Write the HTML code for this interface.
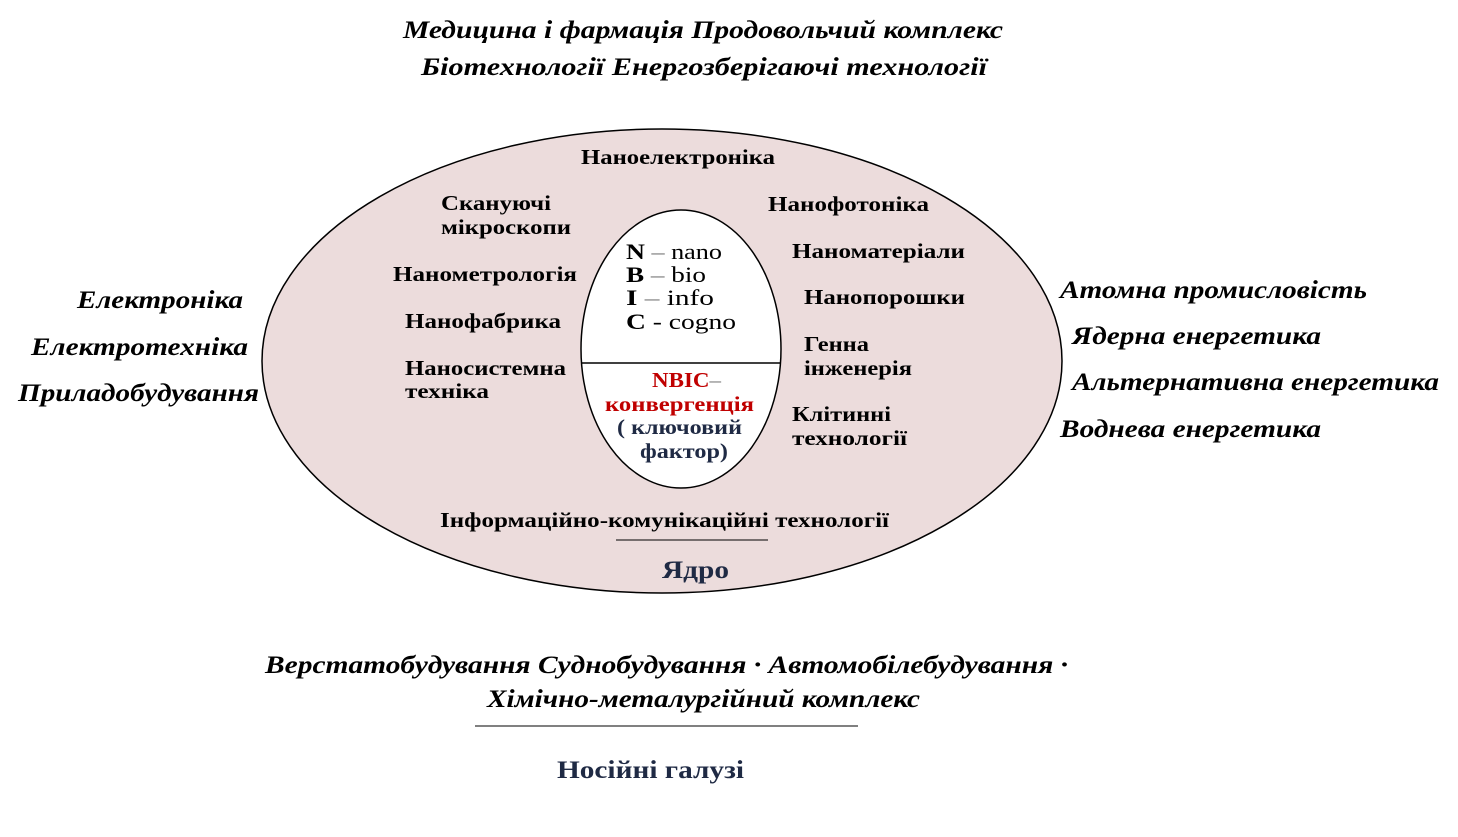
<!DOCTYPE html>
<html><head><meta charset="utf-8"><style>
body{margin:0;background:#fff;}
svg text{font-family:"Liberation Serif",serif;}
.b{font-weight:bold;font-size:21px;fill:#000;}
.i{font-weight:bold;font-style:italic;font-size:25px;fill:#000;}
.n{font-size:22px;}
</style></head><body>
<svg width="1458" height="832" xmlns="http://www.w3.org/2000/svg">
<ellipse cx="662" cy="361" rx="400" ry="232" fill="#ecdcdc" stroke="#000" stroke-width="1.5"/>
<ellipse cx="681" cy="349" rx="100" ry="139" fill="#fff" stroke="#000" stroke-width="1.5"/>
<line x1="581" y1="363" x2="781" y2="363" stroke="#000" stroke-width="1.5"/>
<line x1="616" y1="540" x2="768" y2="540" stroke="#000"/>
<line x1="475" y1="726" x2="858" y2="726" stroke="#000"/>

<g>
<text class="i" x="403" y="38" textLength="600" lengthAdjust="spacingAndGlyphs">Медицина і фармація  Продовольчий комплекс</text>
<text class="i" x="421" y="75" textLength="566" lengthAdjust="spacingAndGlyphs">Біотехнології   Енергозберігаючі технології</text>

<text class="b" x="581" y="164" textLength="194" lengthAdjust="spacingAndGlyphs">Наноелектроніка</text>
<text class="b" x="441" y="210" textLength="110" lengthAdjust="spacingAndGlyphs">Скануючі</text>
<text class="b" x="441" y="234" textLength="130" lengthAdjust="spacingAndGlyphs">мікроскопи</text>
<text class="b" x="393" y="281" textLength="184" lengthAdjust="spacingAndGlyphs">Нанометрологія</text>
<text class="b" x="405" y="328" textLength="156" lengthAdjust="spacingAndGlyphs">Нанофабрика</text>
<text class="b" x="405" y="375" textLength="161" lengthAdjust="spacingAndGlyphs">Наносистемна</text>
<text class="b" x="405" y="398" textLength="84" lengthAdjust="spacingAndGlyphs">техніка</text>
<text class="b" x="768" y="211" textLength="161" lengthAdjust="spacingAndGlyphs">Нанофотоніка</text>
<text class="b" x="792" y="258" textLength="173" lengthAdjust="spacingAndGlyphs">Наноматеріали</text>
<text class="b" x="804" y="304" textLength="161" lengthAdjust="spacingAndGlyphs">Нанопорошки</text>
<text class="b" x="804" y="351" textLength="65" lengthAdjust="spacingAndGlyphs">Генна</text>
<text class="b" x="804" y="375" textLength="108" lengthAdjust="spacingAndGlyphs">інженерія</text>
<text class="b" x="792" y="421" textLength="99" lengthAdjust="spacingAndGlyphs">Клітинні</text>
<text class="b" x="792" y="445" textLength="115" lengthAdjust="spacingAndGlyphs">технології</text>
<text class="b" x="440" y="527" textLength="449" lengthAdjust="spacingAndGlyphs">Інформаційно-комунікаційні технології</text>
<text class="b" x="662" y="578" textLength="67" lengthAdjust="spacingAndGlyphs" style="font-size:25px;fill:#1f2a44">Ядро</text>

<text class="n" x="626" y="259" textLength="96" lengthAdjust="spacingAndGlyphs"><tspan font-weight="bold">N</tspan><tspan fill="#777"> – </tspan> nano</text>
<text class="n" x="626" y="282" textLength="80" lengthAdjust="spacingAndGlyphs"><tspan font-weight="bold">B</tspan><tspan fill="#777"> – </tspan> bio</text>
<text class="n" x="626" y="305" textLength="88" lengthAdjust="spacingAndGlyphs"><tspan font-weight="bold">I</tspan><tspan fill="#777">  – </tspan> info</text>
<text class="n" x="626" y="329" textLength="110" lengthAdjust="spacingAndGlyphs"><tspan font-weight="bold">C</tspan> -  cogno</text>

<text class="b" x="652" y="387" textLength="69" lengthAdjust="spacingAndGlyphs" style="fill:#c00000">NBIC<tspan style="fill:#777;font-weight:normal">–</tspan></text>
<text class="b" x="605" y="411" textLength="149" lengthAdjust="spacingAndGlyphs" style="fill:#c00000">конвергенція</text>
<text class="b" x="617" y="434" textLength="125" lengthAdjust="spacingAndGlyphs" style="fill:#1f2a44">( ключовий</text>
<text class="b" x="640" y="458" textLength="88" lengthAdjust="spacingAndGlyphs" style="fill:#1f2a44">фактор)</text>

<text class="i" x="77" y="308" textLength="166" lengthAdjust="spacingAndGlyphs">Електроніка</text>
<text class="i" x="31" y="355" textLength="217" lengthAdjust="spacingAndGlyphs">Електротехніка</text>
<text class="i" x="18" y="401" textLength="241" lengthAdjust="spacingAndGlyphs">Приладобудування</text>
<text class="i" x="1060" y="298" textLength="307" lengthAdjust="spacingAndGlyphs">Атомна промисловість</text>
<text class="i" x="1072" y="344" textLength="249" lengthAdjust="spacingAndGlyphs">Ядерна енергетика</text>
<text class="i" x="1072" y="390" textLength="367" lengthAdjust="spacingAndGlyphs">Альтернативна енергетика</text>
<text class="i" x="1060" y="437" textLength="261" lengthAdjust="spacingAndGlyphs">Воднева енергетика</text>

<text class="i" x="265" y="673" textLength="803" lengthAdjust="spacingAndGlyphs">Верстатобудування  Суднобудування · Автомобілебудування ·</text>
<text class="i" x="487" y="707" textLength="433" lengthAdjust="spacingAndGlyphs">Хімічно-металургійний комплекс</text>
<text class="b" x="557" y="778" textLength="187" lengthAdjust="spacingAndGlyphs" style="font-size:25px;fill:#1f2a44">Носійні галузі</text>
</g>
</svg>
</body></html>
